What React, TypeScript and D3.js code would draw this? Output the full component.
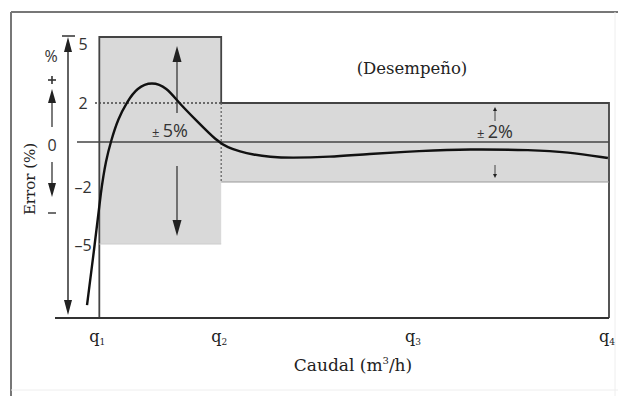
import React from "react";
import * as d3 from "d3";

// ---- data ----
const qLabels = ["q1", "q2", "q3", "q4"];
const qValues = [8, 30, 65, 100]; // relative flow positions
const yTickValues = [5, 2, -2, -5];
const curveX = [5.78, 7.22, 8.3, 9.21, 10.11, 11.37, 13.0, 14.8, 17.5, 20.2, 22.2, 25.6, 29.2, 31.2, 33.4, 35.7, 38.8, 42.4, 49.6, 56.3, 65.9, 74.4, 86.3, 92.4, 99.8];
const curveY = [-7.97, -4.95, -2.39, -0.9, 0.05, 1.18, 2.05, 2.7, 2.98, 2.7, 2.05, 1.08, 0.05, -0.28, -0.48, -0.63, -0.75, -0.8, -0.75, -0.6, -0.45, -0.35, -0.4, -0.5, -0.8];
const lowLimits = [5, -5]; // ±5% between q1 and q2
const highLimits = [2, -2]; // ±2% between q2 and q4

const W = 618;
const H = 396;

export default function App() {
  const x = d3.scaleLinear().domain([0, 100]).range([55, 609]);
  const y = d3.scaleLinear().domain([-8.6, -5, -2, 0, 2, 5]).range([318, 244, 182, 142, 103, 37]);

  const pts: [number, number][] = curveX.map((v, i) => [v, curveY[i]]);
  const line = d3
    .line<[number, number]>()
    .x((d) => x(d[0]))
    .y((d) => y(d[1]))
    .curve(d3.curveBasis);

  const q1 = x(qValues[0]);
  const q2 = x(qValues[1]);
  const q4 = x(qValues[3]);
  const y5 = y(lowLimits[0]);
  const ym5 = y(lowLimits[1]);
  const y2 = y(highLimits[0]);
  const ym2 = y(highLimits[1]);
  const y0 = y(0);
  const yb = y(-8.6);

  const serif = "'DejaVu Serif', 'Liberation Serif', serif";
  const sans = "'Open Sans', 'Noto Sans', sans-serif";
  const ink = "#222";
  const gray = "#d9d9d9";

  const arrowHead = (cx: number, tipY: number, dir: 1 | -1, w: number, h: number) =>
    `M${cx},${tipY} L${cx - w / 2},${tipY + dir * h} L${cx + w / 2},${tipY + dir * h} Z`;

  return (
    <svg width={W} height={H} style={{ position: "absolute", left: 0, top: 0, background: "#fff" }}>
      {/* outer frame */}
      <line x1={11} y1={12} x2={618} y2={12} stroke="#777" strokeWidth={2} />
      <line x1={11} y1={12} x2={11} y2={396} stroke="#777" strokeWidth={2} />
      <line x1={615} y1={12} x2={615} y2={396} stroke="#eee" strokeWidth={1} />
      <line x1={11} y1={390} x2={618} y2={390} stroke="#eee" strokeWidth={1} />

      {/* gray regions */}
      <rect x={q1} y={y5} width={q2 - q1} height={ym5 - y5} fill={gray} />
      <rect x={q2} y={y2} width={q4 - q2} height={ym2 - y2} fill={gray} />

      {/* region outlines */}
      <path d={`M${q1},${yb} L${q1},${y5} L${q2},${y5} L${q2},${y2} L${q4},${y2} L${q4},${yb}`} fill="none" stroke="#444" strokeWidth={1.8} />
      <line x1={q2} y1={ym2} x2={q4} y2={ym2} stroke="#999" strokeWidth={1} />
      <line x1={q1} y1={ym5} x2={q2} y2={ym5} stroke="#ccc" strokeWidth={1} />
      <line x1={95} y1={y2} x2={q2} y2={y2} stroke="#444" strokeWidth={1.3} strokeDasharray="2,2" />
      <line x1={q2} y1={y2} x2={q2} y2={ym2} stroke="#666" strokeWidth={1.3} strokeDasharray="2,2" />

      {/* zero line and x axis */}
      <line x1={77} y1={y0} x2={q4} y2={y0} stroke="#444" strokeWidth={1.5} />
      <line x1={55} y1={yb} x2={q4} y2={yb} stroke="#333" strokeWidth={1.8} />

      {/* y axis double arrow */}
      <line x1={68} y1={46} x2={68} y2={306} stroke={ink} strokeWidth={1.4} />
      <path d={arrowHead(68, 37, 1, 8, 15)} fill={ink} />
      <path d={arrowHead(68, 315, -1, 8, 15)} fill={ink} />
      <line x1={62} y1={36} x2={75} y2={36} stroke={ink} strokeWidth={1.4} />

      {/* y tick labels */}
      {yTickValues.map((v) => (
        <text key={v} x={83} y={y(v) + (v === 5 ? 13 : v === -5 ? 7 : v === -2 ? 11 : 6)} textAnchor="middle" fontFamily={sans} fontSize={16} fill="#333">
          {v < 0 ? `\u2013${Math.abs(v)}` : `${v}`}
        </text>
      ))}
      <text x={52} y={y0 + 9} textAnchor="middle" fontFamily={sans} fontSize={16} fill="#333">0</text>

      {/* left sign indicators */}
      <text x={51} y={62} textAnchor="middle" fontFamily={sans} fontSize={16} fill="#333">%</text>
      <line x1={48} y1={80} x2={56} y2={80} stroke="#333" strokeWidth={1.6} />
      <line x1={52} y1={76} x2={52} y2={84} stroke="#333" strokeWidth={1.6} />
      <line x1={52} y1={100} x2={52} y2={127} stroke="#444" strokeWidth={1.4} />
      <path d={arrowHead(52, 89, 1, 8, 14)} fill={ink} />
      <line x1={52} y1={162} x2={52} y2={186} stroke="#444" strokeWidth={1.4} />
      <path d={arrowHead(52, 197, -1, 8, 14)} fill={ink} />
      <line x1={48} y1={213} x2={56} y2={213} stroke="#333" strokeWidth={1.4} />

      {/* y axis title */}
      <text transform="translate(35,179) rotate(-90)" textAnchor="middle" fontFamily={serif} fontSize={15} fill="#222">Error (%)</text>

      {/* ±5% arrows */}
      <line x1={177} y1={58} x2={177} y2={113} stroke="#444" strokeWidth={1.4} />
      <path d={arrowHead(177, 46, 1, 9, 16)} fill={ink} />
      <line x1={177} y1={166} x2={177} y2={222} stroke="#444" strokeWidth={1.4} />
      <path d={arrowHead(177, 236, -1, 9, 16)} fill={ink} />
      <text x={170} y={137} textAnchor="middle" fontFamily={sans} fill="#333">
        <tspan fontSize={13}>± </tspan>
        <tspan fontSize={18}>5%</tspan>
      </text>

      {/* ±2% arrows */}
      <line x1={495} y1={110} x2={495} y2={121} stroke="#444" strokeWidth={1} />
      <path d={arrowHead(495, 107, 1, 4, 4)} fill={ink} />
      <line x1={495} y1={165} x2={495} y2={174} stroke="#444" strokeWidth={1} />
      <path d={arrowHead(495, 178, -1, 4, 4)} fill={ink} />
      <text x={495} y={138} textAnchor="middle" fontFamily={sans} fill="#333">
        <tspan fontSize={13}>± </tspan>
        <tspan fontSize={18}>2%</tspan>
      </text>

      {/* label */}
      <text x={412} y={74} textAnchor="middle" fontFamily={serif} fontSize={16.5} fill="#222">(Desempeño)</text>

      {/* error curve */}
      <path d={line(pts) ?? ""} fill="none" stroke="#111" strokeWidth={2.4} />

      {/* x tick labels */}
      {qLabels.map((l, i) => (
        <text key={l} x={x(qValues[i]) - 2} y={342} textAnchor="middle" fontFamily={serif} fontSize={16} fill="#222">
          {l[0]}
          <tspan fontSize={9} dy={3}>{l.slice(1)}</tspan>
        </text>
      ))}

      {/* x axis title */}
      <text x={353} y={371} textAnchor="middle" fontFamily={serif} fontSize={17} fill="#222">
        Caudal (m<tspan fontSize={10} dy={-7}>3</tspan><tspan dy={7}>/h)</tspan>
      </text>
    </svg>
  );
}
